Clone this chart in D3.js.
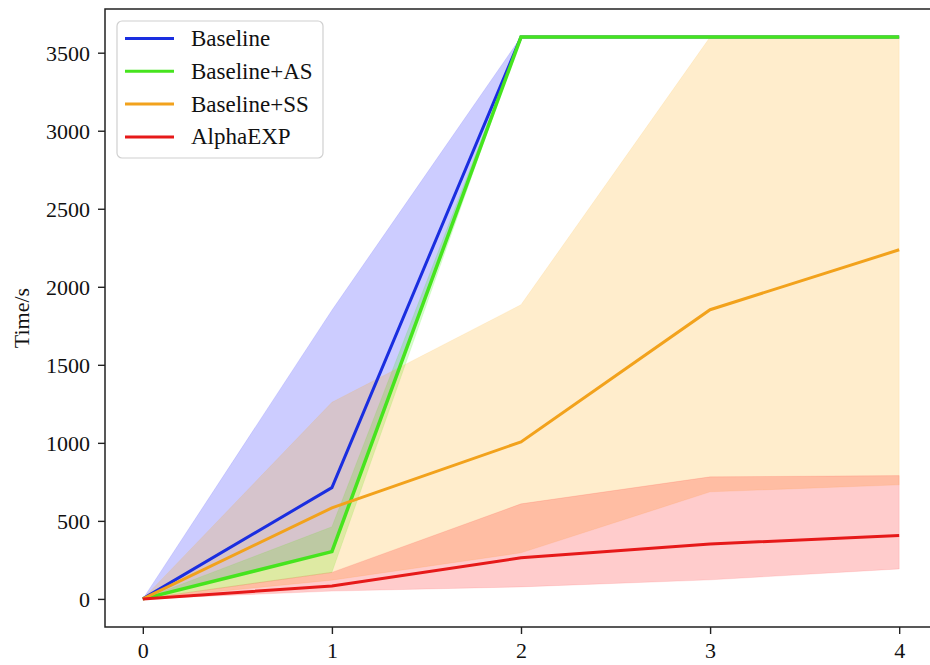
<!DOCTYPE html>
<html>
<head>
<meta charset="utf-8">
<script src="https://cdn.jsdelivr.net/npm/d3@7"></script>
<style>
  body { margin: 0; background: #fff; }
  svg { display: block; font-family: "Liberation Serif", "Times New Roman", serif; }
  svg text { font-family: "Liberation Serif", "Times New Roman", serif; }
</style>
</head>
<body>
<div id="chart"></div>
<script>
// data
const steps = [0, 1, 2, 3, 4]
const seriesNames = ["Baseline", "Baseline+AS", "Baseline+SS", "AlphaEXP"]
const baselineMean  = [0, 713, 3600, 3600, 3600]
const baselineLow   = [0, 300, 3600, 3600, 3600]
const baselineHigh  = [0, 1850, 3600, 3600, 3600]
const asMean        = [0, 303, 3600, 3600, 3600]
const asLow         = [0, 170, 3600, 3600, 3600]
const asHigh        = [0, 462, 3600, 3600, 3600]
const ssMean        = [0, 583, 1006, 1853, 2237]
const ssLow         = [0, 120, 295, 686, 731]
const ssHigh        = [0, 1260, 1885, 3600, 3600]
const alphaMean     = [0, 83, 263, 352, 406]
const alphaLow      = [0, 50, 77, 122, 192]
const alphaHigh     = [0, 170, 609, 782, 790]
const yTicks = [0, 500, 1000, 1500, 2000, 2500, 3000, 3500]
const xTicks = [0, 1, 2, 3, 4]

const lineColors = ["#1a2ee0", "#46e41e", "#f2a21c", "#e61919"]
const fillColors = ["#0000ff", "#33ee00", "#ffa500", "#ff0000"]

const w = 930
const h = 665

const xScale = d3.scaleLinear().domain([-0.2, 4.2]).range([105, 937])
const yScale = d3.scaleLinear().domain([-180, 3780]).range([627, 9])

const svg = d3.select("#chart").append("svg")
  .attr("width", w)
  .attr("height", h)

const series = [
  { mean: baselineMean, low: baselineLow, high: baselineHigh },
  { mean: asMean, low: asLow, high: asHigh },
  { mean: ssMean, low: ssLow, high: ssHigh },
  { mean: alphaMean, low: alphaLow, high: alphaHigh }
]

const area = d3.area()
  .x(d => xScale(d.x))
  .y0(d => yScale(d.lo))
  .y1(d => yScale(d.hi))

const line = d3.line()
  .x(d => xScale(d.x))
  .y(d => yScale(d.y))

// fills first, lines over them (like matplotlib zorder)
series.forEach((s, i) => {
  svg.append("path")
    .datum(steps.map((x, j) => ({ x: x, lo: s.low[j], hi: s.high[j] })))
    .attr("d", area)
    .attr("fill", fillColors[i])
    .attr("fill-opacity", 0.2)
    .attr("stroke", fillColors[i])
    .attr("stroke-opacity", 0.1)
})

series.forEach((s, i) => {
  svg.append("path")
    .datum(steps.map((x, j) => ({ x: x, y: s.mean[j] })))
    .attr("d", line)
    .attr("fill", "none")
    .attr("stroke", lineColors[i])
    .attr("stroke-width", i == 1 ? 3.5 : 3)
    .attr("stroke-linejoin", "miter")
})

// axes
const xAxis = d3.axisBottom(xScale).tickValues(xTicks).tickFormat(d3.format("d")).tickSizeOuter(0).tickSize(7).tickPadding(8)
const yAxis = d3.axisLeft(yScale).tickValues(yTicks).tickFormat(d3.format("d")).tickSizeOuter(0).tickSize(7).tickPadding(8)

const gx = svg.append("g")
  .attr("transform", "translate(0," + yScale.range()[0] + ")")
  .call(xAxis)
const gy = svg.append("g")
  .attr("transform", "translate(" + xScale.range()[0] + ",0)")
  .call(yAxis)

;[gx, gy].forEach(g => {
  // drop d3's sans-serif defaults so the serif from the css is used
  g.attr("font-family", null).attr("font-size", null)
  g.select(".domain").remove()
  g.selectAll(".tick line").attr("stroke", "#222").attr("stroke-width", 1.4)
  g.selectAll(".tick text")
    .attr("fill", "#111")
    .style("font-size", "22px")
})
gy.selectAll(".tick text").attr("dy", "0.34em")

// spines: left, bottom, top (right one falls outside the picture)
const x0 = xScale.range()[0], x1 = xScale.range()[1]
const y0 = yScale.range()[0], y1 = yScale.range()[1]
svg.append("path")
  .attr("d", "M" + x1 + "," + y1 + "H" + x0 + "V" + y0 + "H" + x1 + "V" + y1)
  .attr("fill", "none")
  .attr("stroke", "#222")
  .attr("stroke-width", 1.5)

svg.append("text")
  .attr("transform", "translate(29," + ((y0 + y1) / 2) + ") rotate(-90)")
  .attr("text-anchor", "middle")
  .style("font-size", "22px")
  .attr("fill", "#111")
  .text("Time/s")

// legend
const legend = svg.append("g").attr("transform", "translate(117,21)")
legend.append("rect")
  .attr("width", 206)
  .attr("height", 137)
  .attr("rx", 5)
  .attr("fill", "#fff")
  .attr("fill-opacity", 0.8)
  .attr("stroke", "#d0d0d0")
  .attr("stroke-width", 1.2)

seriesNames.forEach((name, i) => {
  const yy = 17.5 + i * 32.8
  legend.append("line")
    .attr("x1", 8).attr("x2", 57)
    .attr("y1", yy).attr("y2", yy)
    .attr("stroke", lineColors[i])
    .attr("stroke-width", 3)
  legend.append("text")
    .attr("x", 74)
    .attr("y", yy + 7.5)
    .style("font-size", "23px")
    .attr("fill", "#111")
    .text(name)
})
</script>
</body>
</html>
